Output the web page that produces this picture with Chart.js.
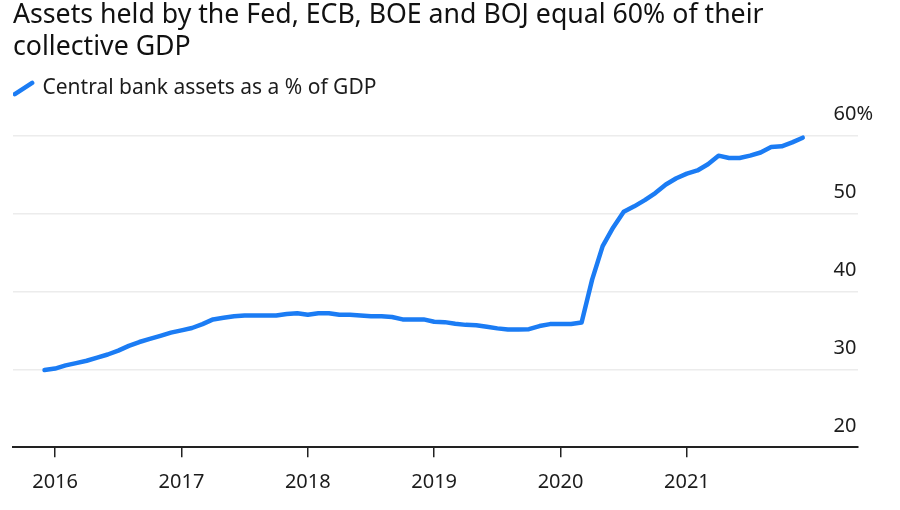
<!DOCTYPE html>
<html>
<head>
<meta charset="utf-8">
<title>Central bank assets as a % of GDP</title>
<script src="https://cdn.jsdelivr.net/npm/chart.js@4.4.1/dist/chart.umd.min.js"></script>
<style>
    html, body { margin: 0 ; padding: 0 ; background: #ffffff ; }
    #chartBox  { position: relative ; width: 900px ; height: 510px ; }
</style>
</head>
<body>
<div id="chartBox"><canvas id="assetsChartCanvas"></canvas></div>
<script>
    // ---------------- Chart data ---------------------------------------------
    var titleLines = [ 'Assets held by the Fed, ECB, BOE and BOJ equal 60% of their',
                       'collective GDP' ] ;
    var seriesName = 'Central bank assets as a % of GDP' ;

    var months = [
        '2015-12',
        '2016-01','2016-02','2016-03','2016-04','2016-05','2016-06',
        '2016-07','2016-08','2016-09','2016-10','2016-11','2016-12',
        '2017-01','2017-02','2017-03','2017-04','2017-05','2017-06',
        '2017-07','2017-08','2017-09','2017-10','2017-11','2017-12',
        '2018-01','2018-02','2018-03','2018-04','2018-05','2018-06',
        '2018-07','2018-08','2018-09','2018-10','2018-11','2018-12',
        '2019-01','2019-02','2019-03','2019-04','2019-05','2019-06',
        '2019-07','2019-08','2019-09','2019-10','2019-11','2019-12',
        '2020-01','2020-02','2020-03','2020-04','2020-05','2020-06',
        '2020-07','2020-08','2020-09','2020-10','2020-11','2020-12',
        '2021-01','2021-02','2021-03','2021-04','2021-05','2021-06',
        '2021-07','2021-08','2021-09','2021-10','2021-11','2021-12'
    ] ;

    var assetsPctGdp = [
        29.9,
        30.1, 30.5, 30.8, 31.1, 31.5, 31.9, 32.4, 33.0, 33.5, 33.9, 34.3, 34.7,
        35.0, 35.3, 35.8, 36.4, 36.6, 36.8, 36.9, 36.9, 36.9, 36.9, 37.1, 37.2,
        37.0, 37.2, 37.2, 37.0, 37.0, 36.9, 36.8, 36.8, 36.7, 36.4, 36.4, 36.4,
        36.1, 36.05, 35.85, 35.7, 35.65, 35.45, 35.25, 35.1, 35.1, 35.15, 35.55, 35.8,
        35.8, 35.8, 36.0, 41.5, 45.8, 48.2, 50.2, 50.9, 51.7, 52.6, 53.7, 54.5,
        55.1, 55.5, 56.3, 57.4, 57.1, 57.1, 57.4, 57.8, 58.5, 58.6, 59.1, 59.7
    ] ;

    var yearTicks  = [ 2016, 2017, 2018, 2019, 2020, 2021 ] ;
    var valueTicks = [ 20, 30, 40, 50, 60 ] ;

    // ---------------- Style ---------------------------------------------------
    var FONT       = 'Noto Sans' ;
    var LINE_COLOR = '#1b7cf4' ;
    var TEXT_COLOR = '#1c1c1c' ;
    var GRID_COLOR = '#ececec' ;

    // -------------------------------------------------------------------------
    function monthToYear( label ) {
        var parts = label.split( '-' ) ;
        return parseInt( parts[0], 10 ) + ( parseInt( parts[1], 10 ) - 1 ) / 12 ;
    }

    function getPoints() {
        var points = [] ;
        for( var i=0; i<months.length; i++ ) {
            points.push( { x: monthToYear( months[i] ), y: assetsPctGdp[i] } ) ;
        }
        return points ;
    }

    function getDataset() {
        return {
            label            : seriesName,
            data             : getPoints(),
            borderColor      : LINE_COLOR,
            backgroundColor  : LINE_COLOR,
            borderWidth      : 4.5,
            borderCapStyle   : 'round',
            borderJoinStyle  : 'round',
            tension          : 0,
            pointRadius      : 0,
            clip             : 8
        } ;
    }

    function getTitleOptions() {
        return {
            display  : true,
            text     : titleLines,
            align    : 'start',
            color    : '#111111',
            font     : { family: FONT, size: 26.7, weight: 'normal', lineHeight: 1.18 },
            padding  : { top: 0, bottom: 13 }
        } ;
    }

    function getLegendOptions() {
        return {
            display  : true,
            position : 'top',
            align    : 'start',
            labels   : {
                usePointStyle : true,
                boxWidth      : 17,
                boxHeight     : 14.6,
                padding       : 2,
                color         : TEXT_COLOR,
                font          : { family: FONT, size: 21 },
                generateLabels: function( chart ) {
                    return [ {
                        text         : seriesName,
                        fillStyle    : LINE_COLOR,
                        strokeStyle  : LINE_COLOR,
                        lineWidth    : 4.5,
                        lineCap      : 'round',
                        pointStyle   : 'line',
                        rotation     : -33,
                        fontColor    : TEXT_COLOR,
                        hidden       : false,
                        datasetIndex : 0
                    } ] ;
                }
            }
        } ;
    }

    function getScaleOptions() {
        return {
            x : {
                type   : 'linear',
                min    : 2015.667,
                max    : 2022.354,
                border : { display: true, color: '#222222', width: 2 },
                grid   : {
                    drawOnChartArea : false,
                    drawTicks       : true,
                    tickLength      : 10,
                    color           : '#222222',
                    lineWidth       : 1.5
                },
                afterBuildTicks : function( scale ) {
                    scale.ticks = yearTicks.map( function( v ) { return { value: v } ; } ) ;
                },
                ticks  : {
                    padding  : 12.7,
                    color    : TEXT_COLOR,
                    font     : { family: FONT, size: 20 },
                    maxRotation : 0,
                    callback : function( value ) { return '' + value ; }
                }
            },
            y : {
                type     : 'linear',
                position : 'right',
                min      : 20,
                max      : 63.38,
                border   : { display: false },
                grid     : {
                    drawTicks : false,
                    color     : function( ctx ) {
                        return ctx.tick && ctx.tick.value === 20 ? 'rgba(0,0,0,0)' : GRID_COLOR ;
                    },
                    lineWidth : 1.5
                },
                afterBuildTicks : function( scale ) {
                    scale.ticks = valueTicks.map( function( v ) { return { value: v } ; } ) ;
                },
                afterFit : function( scale ) {
                    scale.width = 42 ;
                },
                ticks    : {
                    mirror      : true,
                    padding     : 15,
                    crossAlign  : 'far',
                    labelOffset : -21,
                    color       : TEXT_COLOR,
                    font        : { family: FONT, size: 20 },
                    callback    : function( value ) {
                        return value === 60 ? '60%' : '' + value ;
                    }
                }
            }
        } ;
    }

    function getChartOptions() {
        return {
            responsive          : true,
            maintainAspectRatio : false,
            animation           : false,
            layout  : { padding: { left: 13, right: 0, top: 0, bottom: 3.3 } },
            plugins : {
                title   : getTitleOptions(),
                legend  : getLegendOptions(),
                tooltip : { enabled: false }
            },
            scales  : getScaleOptions()
        } ;
    }

    var canvas = document.getElementById( 'assetsChartCanvas' ) ;
    var chart = new Chart( canvas, {
        type    : 'line',
        data    : { datasets: [ getDataset() ] },
        options : getChartOptions()
    } ) ;
</script>
</body>
</html>
